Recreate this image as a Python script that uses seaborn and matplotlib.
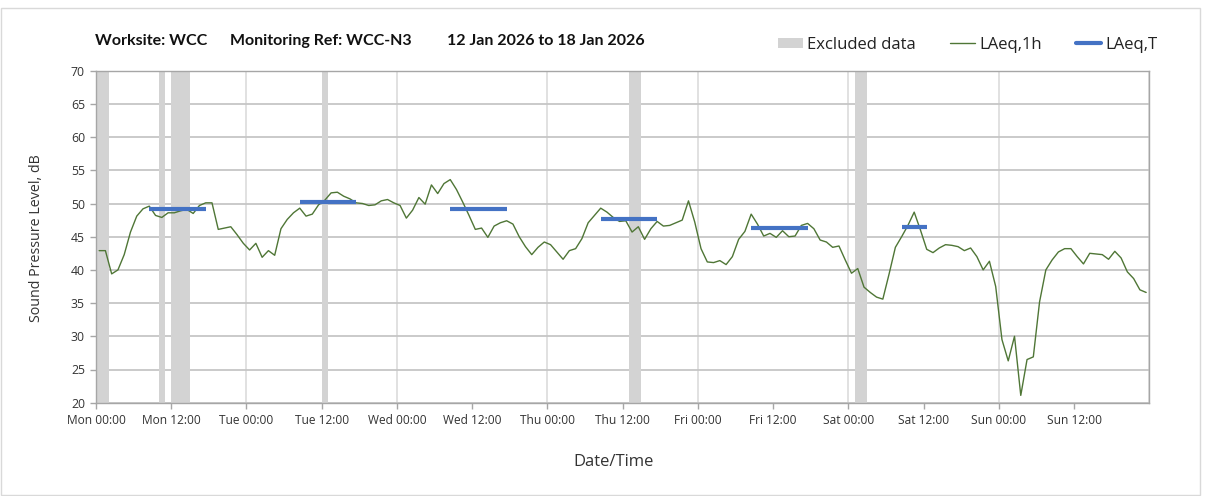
import numpy as np
import pandas as pd
import matplotlib
matplotlib.use("Agg")
import matplotlib.pyplot as plt
import seaborn as sns
from matplotlib.patches import Patch, Rectangle
from matplotlib.lines import Line2D

# Hourly LAeq,1h values, Mon 00:00 through Sun 23:00 (dB)
laeq_1h = [
    42.9, 42.9, 39.4, 40.0, 42.3, 45.7, 48.1, 49.2, 49.6, 48.2, 47.9, 48.6,
    48.6, 48.9, 49.1, 48.5, 49.7, 50.1, 50.1, 46.1, 46.3, 46.5, 45.3, 44.0,
    43.0, 44.0, 41.9, 42.9, 42.2, 46.2, 47.6, 48.6, 49.3, 48.1, 48.4, 49.8,
    50.5, 51.6, 51.7, 51.1, 50.7, 50.1, 50.0, 49.7, 49.8, 50.4, 50.6, 50.1,
    49.7, 47.8, 49.0, 50.9, 49.9, 52.8, 51.5, 53.0, 53.6, 52.1, 50.2, 48.2,
    46.1, 46.3, 44.9, 46.6, 47.1, 47.4, 46.9, 45.0, 43.5, 42.3, 43.4, 44.2,
    43.8, 42.7, 41.6, 42.9, 43.2, 44.7, 47.1, 48.2, 49.3, 48.7, 47.9, 47.3,
    47.4, 45.7, 46.5, 44.6, 46.2, 47.3, 46.6, 46.7, 47.1, 47.5, 50.4, 47.2,
    43.2, 41.2, 41.1, 41.4, 40.8, 42.0, 44.6, 45.8, 48.4, 46.9, 45.1, 45.5,
    44.9, 45.9, 45.0, 45.1, 46.7, 47.0, 46.2, 44.5, 44.2, 43.4, 43.6, 41.5,
    39.5, 40.2, 37.4, 36.6, 35.9, 35.6, 39.4, 43.4, 45.0, 46.7, 48.7, 46.0,
    43.1, 42.6, 43.3, 43.8, 43.7, 43.5, 42.9, 43.3, 42.0, 40.0, 41.3, 37.5,
    29.5, 26.3, 30.0, 21.1, 26.5, 26.9, 35.2, 40.0, 41.5, 42.7, 43.2, 43.2,
    42.0, 40.9, 42.5, 42.4, 42.3, 41.6, 42.8, 41.8, 39.7, 38.7, 37.0, 36.6,
]

# Excluded periods (hours from Mon 00:00)
excluded_start = [0, 10, 12, 36, 85, 121]
excluded_end = [2, 11, 15, 37, 87, 123]

# Working-period LAeq,T (start hour, end hour, level)
period_start = [8.5, 32.5, 56.5, 80.5, 104.5, 128.5]
period_end = [17.5, 41.5, 65.5, 89.5, 113.5, 132.5]
laeq_t = [49.2, 50.3, 49.2, 47.6, 46.3, 46.4]

tick_hours = [0, 12, 24, 36, 48, 60, 72, 84, 96, 108, 120, 132, 144, 156]
tick_labels = ["Mon 00:00", "Mon 12:00", "Tue 00:00", "Tue 12:00",
               "Wed 00:00", "Wed 12:00", "Thu 00:00", "Thu 12:00",
               "Fri 00:00", "Fri 12:00", "Sat 00:00", "Sat 12:00",
               "Sun 00:00", "Sun 12:00"]
day_lines = [0, 24, 48, 72, 96, 120, 144, 168]
y_ticks = [20, 25, 30, 35, 40, 45, 50, 55, 60, 65, 70]

title_parts = ["Worksite: WCC", "Monitoring Ref: WCC-N3", "12 Jan 2026 to 18 Jan 2026"]

sns.set_theme(style="white")
plt.rcParams["font.family"] = ["Lato", "DejaVu Sans"]
ui_font = ["Open Sans", "DejaVu Sans"]

W, H = 1208, 496
fig = plt.figure(figsize=(W / 100, H / 100), dpi=100)
fig.patch.set_facecolor("white")

# light chart-area frame
fig.add_artist(Rectangle((1 / W, 1 / H), 1199 / W, (H - 9) / H,
                         transform=fig.transFigure, fill=False,
                         edgecolor="#d9d9d9", lw=1.0))

ax = fig.add_axes([96 / W, 1 - 402.7 / H, (1149.3 - 96) / W, (402.7 - 70.7) / H])

# grid
for d in day_lines:
    ax.axvline(d, color="#dcdcdc", lw=1.2, zorder=0)
for v in y_ticks:
    ax.axhline(v, color="#c6c6c6", lw=1.3, zorder=0)

# excluded data bands
for s, e in zip(excluded_start, excluded_end):
    ax.axvspan(s, e, color="#d3d3d3", lw=0, zorder=1)

df = pd.DataFrame({"hour": np.arange(len(laeq_1h)) + 0.5, "laeq": laeq_1h})
sns.lineplot(data=df, x="hour", y="laeq", color="#4f7636", lw=1.0, ax=ax, zorder=3)

for s, e, v in zip(period_start, period_end, laeq_t):
    seg = pd.DataFrame({"hour": [s, e], "laeq": [v, v]})
    sns.lineplot(data=seg, x="hour", y="laeq", color="#4472c4", lw=3.0,
                 ax=ax, zorder=4, solid_capstyle="butt")

ax.set_xlim(0, 168)
ax.set_ylim(20, 70)
ax.set_xticks(tick_hours)
ax.set_xticklabels(tick_labels, family=ui_font)
ax.set_yticks(y_ticks)
ax.set_yticklabels([str(v) for v in y_ticks], family=ui_font)
ax.set_xlabel("")
ax.set_ylabel("")
ax.tick_params(axis="both", direction="out", length=4, width=1,
               color="#a6a6a6", labelsize=8.6, labelcolor="#333333", pad=4)
ax.tick_params(axis="x", bottom=True)
ax.tick_params(axis="y", left=True, labelsize=8.8)
for sp in ax.spines.values():
    sp.set_color("#a6a6a6")
    sp.set_linewidth(1.0)
    sp.set_visible(True)

fig.text(37 / W, 1 - 238 / H, "Sound Pressure Level, dB", rotation=90,
         ha="center", va="center", fontsize=10.3, color="#333333", family=ui_font)
fig.text(614 / W, 1 - 462 / H, "Date/Time", ha="center", va="center",
         fontsize=12, color="#333333", family=ui_font)

for x0, part in zip([95, 230, 447], title_parts):
    fig.text(x0 / W, 1 - 41 / H, part, ha="left", va="center", fontsize=11.5,
             fontweight="bold", color="#111111")

handles = [Patch(facecolor="#d3d3d3", edgecolor="none"),
           Line2D([], [], color="#4f7636", lw=1.0),
           Line2D([], [], color="#4472c4", lw=3.0)]
fig.legend(handles, ["Excluded data", "LAeq,1h", "LAeq,T"], loc="center",
           bbox_to_anchor=(968 / W, 1 - 45 / H), ncol=3, frameon=False,
           prop={"family": ui_font, "size": 12},
           handlelength=1.5, handleheight=0.6, handletextpad=0.25,
           columnspacing=2.05, labelcolor="#222222")

fig.savefig("out.png", dpi=100)
